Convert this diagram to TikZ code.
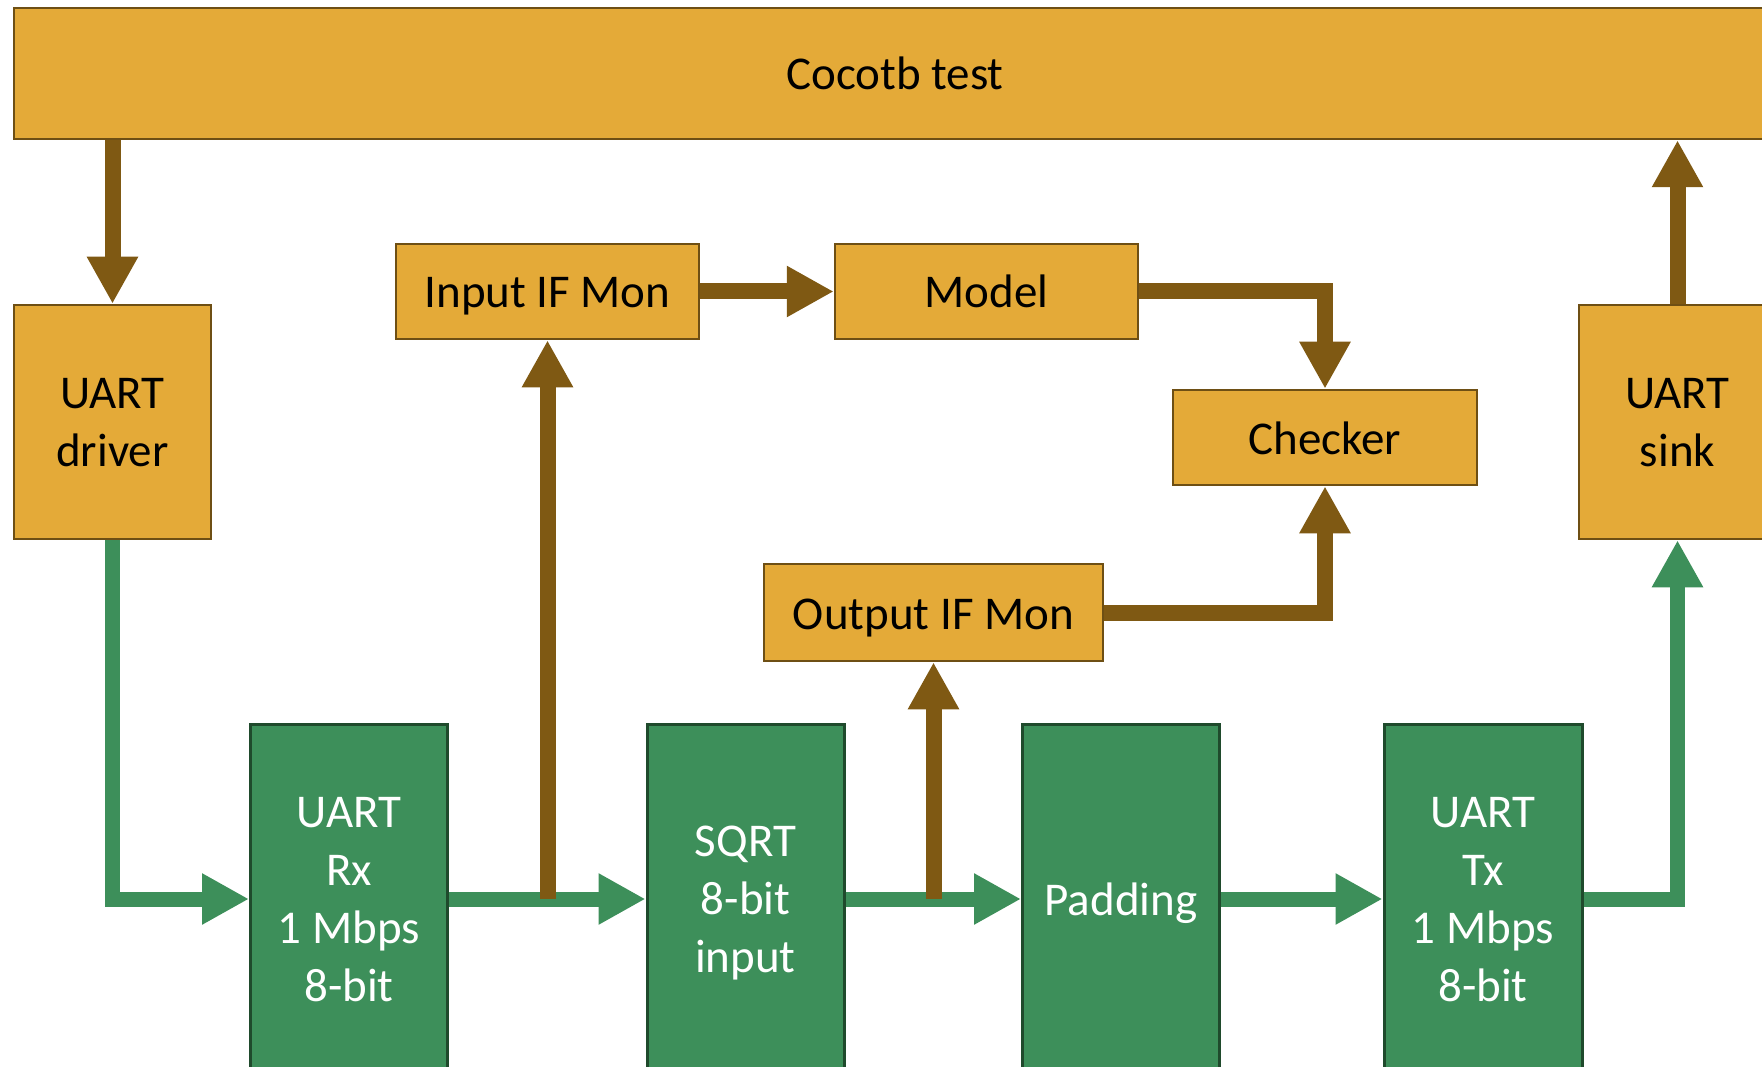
\documentclass[tikz,border=0pt]{standalone}
\usepackage{fontspec}
\setmainfont{Carlito}
\usetikzlibrary{arrows.meta}
\definecolor{ofill}{HTML}{E4AA38}
\definecolor{oline}{HTML}{6E4F14}
\definecolor{bcol}{HTML}{7F5913}
\definecolor{gfill}{HTML}{3D8F5A}
\definecolor{gline}{HTML}{1F4A2C}
\begin{document}
\begin{tikzpicture}[x=1pt,y=-1pt,
  lbl/.style={font=\fontsize{47}{58}\selectfont,align=center,inner sep=0pt,text depth=0pt},
  one/.style={text height=33pt},
  obox/.style={lbl,draw=oline,line width=2.5pt,fill=ofill,text=black},
  gbox/.style={lbl,draw=gline,line width=3pt,fill=gfill,text=white,minimum width=197pt,minimum height=350pt},
  barrow/.style={draw=bcol,line width=16pt,-{Triangle[width=48pt,length=47pt]}},
  garrow/.style={draw=gfill,line width=15pt,-{Triangle[width=48pt,length=47pt]}}]
\useasboundingbox (0,0) rectangle (1762,1067);
\clip (0,0) rectangle (1762,1067);
% boxes
\node[obox,one,minimum width=1762pt,minimum height=131pt] (top) at (895,73.5) {Cocotb test};
\node[obox,minimum width=197pt,minimum height=234pt] (drv) at (112.5,422) {UART\\driver};
\node[obox,minimum width=197pt,minimum height=234pt] (sink) at (1677.5,422) {UART\\sink};
\node[obox,one,minimum width=303pt,minimum height=95pt] (inmon) at (547.5,291.5) {Input IF Mon};
\node[obox,one,minimum width=303pt,minimum height=95pt] (model) at (986.5,291.5) {Model};
\node[obox,one,minimum width=304pt,minimum height=95pt] (checker) at (1325,437.5) {Checker};
\node[obox,one,minimum width=339pt,minimum height=97pt] (outmon) at (933.5,612.5) {Output IF Mon};
\node[gbox] (rx) at (349,899) {UART\\Rx\\1 Mbps\\8-bit};
\node[gbox] (sqrt) at (745.5,899) {SQRT\\8-bit\\input};
\node[gbox,one] (pad) at (1121,899) {Padding};
\node[gbox,minimum width=198pt] (tx) at (1483,899) {UART\\Tx\\1 Mbps\\8-bit};
% green data path
\draw[garrow] (drv.south) |- (rx.west);
\draw[garrow] (rx.east) -- (sqrt.west);
\draw[garrow] (sqrt.east) -- (pad.west);
\draw[garrow] (pad.east) -- (tx.west);
\draw[garrow] (tx.east) -| (sink.south);
% brown verification path
\draw[barrow] (drv.north |- top.south) -- (drv.north);
\draw[barrow] (sink.north) -- (sink.north |- top.south);
\draw[barrow] (inmon.south |- rx.east) -- (inmon.south);
\draw[barrow] (outmon.south |- sqrt.east) -- (outmon.south);
\draw[barrow] (inmon.east) -- (model.west);
\draw[barrow] (model.east) -| (checker.north);
\draw[barrow] (outmon.east) -| (checker.south);
\end{tikzpicture}
\end{document}
